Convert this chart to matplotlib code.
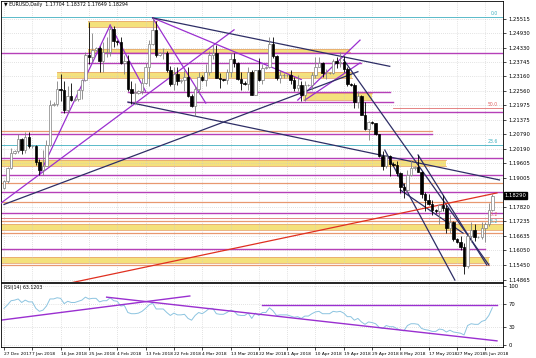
import matplotlib
matplotlib.use("Agg")
import matplotlib.pyplot as plt

# EURUSD daily bars, 27 Dec 2017 .. 7 Jun 2018 (Sunday bars included)
opens = [1.1860, 1.1887, 1.1940, 1.2005, 1.2010, 1.2060, 1.2015, 1.2070,
         1.2030, 1.2030, 1.1965, 1.1935, 1.1950, 1.2035, 1.2200, 1.2205,
         1.2265, 1.2260, 1.2180, 1.2235, 1.2220, 1.2225, 1.2260, 1.2300,
         1.2405, 1.2395, 1.2425, 1.2430, 1.2380, 1.2415, 1.2415, 1.2510,
         1.2460, 1.2455, 1.2370, 1.2380, 1.2265, 1.2250, 1.2250, 1.2255,
         1.2290, 1.2355, 1.2450, 1.2505, 1.2405, 1.2410, 1.2410, 1.2340,
         1.2285, 1.2325, 1.2295, 1.2300, 1.2315, 1.2235, 1.2195, 1.2265,
         1.2315, 1.2300, 1.2335, 1.2405, 1.2410, 1.2310, 1.2305, 1.2300,
         1.2335, 1.2385, 1.2370, 1.2305, 1.2290, 1.2285, 1.2335, 1.2240,
         1.2340, 1.2300, 1.2350, 1.2355, 1.2450, 1.2400, 1.2310, 1.2320,
         1.2320, 1.2320, 1.2300, 1.2270, 1.2280, 1.2240, 1.2280, 1.2280,
         1.2320, 1.2355, 1.2370, 1.2330, 1.2330, 1.2330, 1.2380, 1.2370,
         1.2375, 1.2345, 1.2285, 1.2280, 1.2210, 1.2235, 1.2160, 1.2100,
         1.2130, 1.2125, 1.2080, 1.1990, 1.1950, 1.1990, 1.1960, 1.1955,
         1.1920, 1.1865, 1.1850, 1.1915, 1.1940, 1.1945, 1.1925, 1.1835,
         1.1810, 1.1795, 1.1770, 1.1765, 1.1790, 1.1780, 1.1695, 1.1720,
         1.1650, 1.1640, 1.1620, 1.1540, 1.1665, 1.1690, 1.1660, 1.1660,
         1.1695, 1.1715, 1.1770]
highs = [1.1893, 1.1945, 1.2023, 1.2015, 1.2081, 1.2065, 1.2089, 1.2090,
         1.2035, 1.2035, 1.1980, 1.2015, 1.2055, 1.2218, 1.2210, 1.2295,
         1.2325, 1.2296, 1.2275, 1.2290, 1.2230, 1.2265, 1.2305, 1.2415,
         1.2537, 1.2495, 1.2435, 1.2440, 1.2455, 1.2475, 1.2525, 1.2520,
         1.2465, 1.2475, 1.2405, 1.2405, 1.2295, 1.2290, 1.2260, 1.2310,
         1.2370, 1.2465, 1.2555, 1.2540, 1.2415, 1.2430, 1.2420, 1.2360,
         1.2355, 1.2355, 1.2305, 1.2340, 1.2355, 1.2245, 1.2275, 1.2335,
         1.2320, 1.2365, 1.2420, 1.2445, 1.2445, 1.2330, 1.2305, 1.2345,
         1.2410, 1.2410, 1.2375, 1.2335, 1.2295, 1.2355, 1.2340, 1.2340,
         1.2390, 1.2365, 1.2360, 1.2475, 1.2475, 1.2405, 1.2340, 1.2330,
         1.2325, 1.2340, 1.2315, 1.2320, 1.2295, 1.2295, 1.2285, 1.2335,
         1.2395, 1.2395, 1.2375, 1.2345, 1.2335, 1.2385, 1.2395, 1.2415,
         1.2400, 1.2355, 1.2290, 1.2290, 1.2255, 1.2240, 1.2210, 1.2135,
         1.2135, 1.2125, 1.2080, 1.2010, 1.2000, 1.1995, 1.1965, 1.1970,
         1.1925, 1.1880, 1.1935, 1.1975, 1.1950, 1.1995, 1.1930, 1.1845,
         1.1835, 1.1810, 1.1775, 1.1795, 1.1830, 1.1790, 1.1750, 1.1725,
         1.1655, 1.1665, 1.1635, 1.1675, 1.1720, 1.1715, 1.1665, 1.1720,
         1.1720, 1.1800, 1.1837]
lows = [1.1855, 1.1880, 1.1937, 1.2000, 1.2005, 1.2000, 1.2005, 1.2025,
        1.2025, 1.1955, 1.1915, 1.1915, 1.1955, 1.2030, 1.2195, 1.2195,
        1.2215, 1.2165, 1.2165, 1.2215, 1.2215, 1.2215, 1.2225, 1.2295,
        1.2365, 1.2375, 1.2420, 1.2335, 1.2335, 1.2395, 1.2400, 1.2435,
        1.2445, 1.2365, 1.2325, 1.2255, 1.2205, 1.2205, 1.2245, 1.2245,
        1.2285, 1.2275, 1.2445, 1.2395, 1.2400, 1.2385, 1.2335, 1.2275,
        1.2260, 1.2280, 1.2290, 1.2255, 1.2230, 1.2190, 1.2155, 1.2245,
        1.2295, 1.2275, 1.2320, 1.2385, 1.2310, 1.2270, 1.2295, 1.2285,
        1.2315, 1.2355, 1.2300, 1.2260, 1.2280, 1.2260, 1.2240, 1.2240,
        1.2295, 1.2285, 1.2345, 1.2350, 1.2390, 1.2300, 1.2290, 1.2310,
        1.2315, 1.2285, 1.2255, 1.2255, 1.2215, 1.2215, 1.2275, 1.2260,
        1.2310, 1.2355, 1.2315, 1.2305, 1.2325, 1.2325, 1.2350, 1.2355,
        1.2335, 1.2275, 1.2275, 1.2185, 1.2185, 1.2160, 1.2095, 1.2055,
        1.2120, 1.2075, 1.1985, 1.1935, 1.1940, 1.1910, 1.1950, 1.1910,
        1.1840, 1.1820, 1.1845, 1.1910, 1.1935, 1.1925, 1.1820, 1.1765,
        1.1790, 1.1750, 1.1760, 1.1715, 1.1765, 1.1675, 1.1675, 1.1645,
        1.1635, 1.1605, 1.1510, 1.1535, 1.1640, 1.1645, 1.1655, 1.1650,
        1.1640, 1.1705, 1.1765]
closes = [1.1887, 1.1940, 1.2005, 1.2010, 1.2060, 1.2015, 1.2070, 1.2030,
          1.2030, 1.1965, 1.1935, 1.1950, 1.2035, 1.2200, 1.2205, 1.2265,
          1.2260, 1.2180, 1.2235, 1.2220, 1.2225, 1.2260, 1.2300, 1.2405,
          1.2395, 1.2425, 1.2430, 1.2380, 1.2415, 1.2415, 1.2510, 1.2460,
          1.2455, 1.2370, 1.2380, 1.2265, 1.2250, 1.2250, 1.2255, 1.2290,
          1.2355, 1.2450, 1.2505, 1.2405, 1.2410, 1.2410, 1.2340, 1.2285,
          1.2325, 1.2295, 1.2300, 1.2315, 1.2235, 1.2195, 1.2265, 1.2315,
          1.2300, 1.2335, 1.2405, 1.2410, 1.2310, 1.2305, 1.2300, 1.2335,
          1.2385, 1.2370, 1.2305, 1.2290, 1.2285, 1.2335, 1.2240, 1.2340,
          1.2300, 1.2350, 1.2355, 1.2450, 1.2400, 1.2310, 1.2320, 1.2320,
          1.2320, 1.2300, 1.2270, 1.2280, 1.2240, 1.2280, 1.2280, 1.2320,
          1.2355, 1.2370, 1.2330, 1.2330, 1.2330, 1.2380, 1.2370, 1.2375,
          1.2345, 1.2285, 1.2280, 1.2210, 1.2235, 1.2160, 1.2100, 1.2130,
          1.2125, 1.2080, 1.1990, 1.1950, 1.1990, 1.1960, 1.1955, 1.1920,
          1.1865, 1.1850, 1.1915, 1.1940, 1.1945, 1.1925, 1.1835, 1.1810,
          1.1795, 1.1770, 1.1765, 1.1790, 1.1780, 1.1695, 1.1720, 1.1650,
          1.1640, 1.1620, 1.1540, 1.1665, 1.1690, 1.1660, 1.1660, 1.1695,
          1.1715, 1.1770, 1.1829]

# RSI(14)
rsi = [62, 68, 75, 76, 78, 72, 76, 73,
       73, 62, 57, 59, 66, 78, 78, 80,
       79, 70, 74, 72, 72, 74, 76, 81,
       78, 79, 79, 73, 75, 75, 80, 75,
       74, 66, 67, 55, 53, 53, 54, 57,
       62, 68, 71, 61, 61, 61, 55, 50,
       54, 51, 51, 52, 45, 42, 50, 55,
       53, 57, 62, 62, 53, 52, 52, 55,
       59, 57, 51, 50, 50, 54, 45, 54,
       50, 55, 55, 63, 58, 50, 51, 51,
       51, 49, 47, 48, 45, 49, 49, 53,
       56, 57, 53, 53, 53, 57, 56, 57,
       54, 48, 48, 42, 45, 39, 35, 39,
       38, 36, 30, 28, 33, 31, 31, 28,
       25, 24, 33, 36, 36, 35, 28, 26,
       25, 23, 23, 27, 26, 22, 25, 22,
       21, 20, 17, 33, 36, 35, 35, 40,
       42, 50, 63.12]

date_labels = ["27 Dec 2017", "7 Jan 2018", "16 Jan 2018", "25 Jan 2018", "4 Feb 2018",
               "13 Feb 2018", "22 Feb 2018", "4 Mar 2018", "13 Mar 2018", "22 Mar 2018",
               "1 Apr 2018", "10 Apr 2018", "19 Apr 2018", "29 Apr 2018", "8 May 2018",
               "17 May 2018", "27 May 2018", "5 Jun 2018"]
price_ticks = [1.25515, 1.24930, 1.24330, 1.23745, 1.23160, 1.22560, 1.21975, 1.21375,
               1.20790, 1.20190, 1.19605, 1.19005, 1.18420, 1.17820, 1.17235, 1.16635,
               1.16050, 1.15450, 1.14865]

# horizontal levels: price, first bar, last bar
magenta_levels = [(1.2411, -2, 142), (1.2371, 23, 101), (1.2252, 35, 109), (1.2211, 35, 110),
                  (1.2170, 16, 142), (1.2081, -2, 121), (1.1983, -2, 142), (1.1913, -2, 142),
                  (1.1844, -2, 142), (1.1758, -2, 142), (1.1611, -2, 136)]
orange_levels = [(1.2093, -2, 121), (1.1881, -2, 142), (1.1803, -2, 142), (1.1725, -2, 142),
                 (1.1676, -2, 142), (1.1546, -2, 137)]
# yellow zones: low, high, first bar, last bar
zones = [(1.2517, 1.2542, 23.7, 43.2), (1.2415, 1.2428, 23.7, 97.7), (1.2309, 1.2334, 15, 98.3),
         (1.2219, 1.2248, 84.5, 104), (1.1950, 1.1975, -2, 125), (1.1689, 1.1713, -2, 142),
         (1.1554, 1.1578, -2, 137)]
# trend lines: (bar, price) -> (bar, price)
purple_lines = [((10, 1.1915), (30, 1.2525)), ((-1, 1.1797), (65, 1.2506)),
                ((30, 1.2525), (40, 1.2255)), ((42, 1.2555), (84, 1.2303)),
                ((42, 1.2555), (57, 1.2207)), ((83, 1.2219), (100.6, 1.2464)),
                ((85, 1.2219), (100.6, 1.2371))]
navy_lines = [((0, 1.1793), (100, 1.2335)), ((35, 1.2211), (140, 1.1893)),
              ((42, 1.2555), (109, 1.2357)), ((96, 1.2383), (137, 1.1546)),
              ((117, 1.1995), (136.4, 1.1546)), ((107.6, 1.2015), (127.4, 1.1484)),
              ((112, 1.1852), (129.7, 1.1676))]
red_line = ((18.6, 1.1472), (139.3, 1.1840))
fib_cyan = [1.2558, 1.2036]
fib_red = [(1.2187, 110), (1.1738, -2)]
rsi_lines = [((-1, 42), (52.5, 83)), ((29, 81), (139.3, 7))]
rsi_level = (68, 73, 139.3)


def main():
    n = len(closes)
    idx = list(range(n))

    fig = plt.figure(figsize=(5.36, 3.58), dpi=100)
    ax = fig.add_axes([1 / 536, 76 / 358, 502 / 536, 281 / 358])
    ax2 = fig.add_axes([1 / 536, 11 / 358, 502 / 536, 64 / 358])

    # levels and zones first, candles on top
    for lo, hi, a, b in zones:
        ax.fill_between([a, b], lo, hi, color="#F4E17C", lw=0, zorder=1)
        ax.plot([a, b], [lo, lo], color="#E8A870", lw=0.6, zorder=1)
        ax.plot([a, b], [hi, hi], color="#E8A870", lw=0.6, zorder=1)
    for p, a, b in magenta_levels:
        ax.plot([a, b], [p, p], color="#B640B8", lw=1.0, zorder=2)
    for p, a, b in orange_levels:
        ax.plot([a, b], [p, p], color="#E89870", lw=0.9, zorder=2)
    for p in fib_cyan:
        ax.axhline(p, color="#3FB0C0", lw=0.6, zorder=2)
    for p, a in fib_red:
        ax.plot([a, 142], [p, p], color="#E07070", lw=0.6, zorder=2)

    for (x0, y0), (x1, y1) in purple_lines:
        ax.plot([x0, x1], [y0, y1], color="#9A2FD0", lw=0.9, zorder=3)
    for (x0, y0), (x1, y1) in navy_lines:
        ax.plot([x0, x1], [y0, y1], color="#2E2E66", lw=0.9, zorder=3)
    ax.plot([red_line[0][0], red_line[1][0]], [red_line[0][1], red_line[1][1]],
            color="#E03020", lw=0.9, zorder=3)

    for i in idx:
        o, h, l, c = opens[i], highs[i], lows[i], closes[i]
        bull = c >= o
        ax.vlines(i, l, h, color="#808080" if bull else "black", lw=0.6, zorder=4)
        body = max(abs(c - o), 0.00012)
        ax.bar(i, body, bottom=min(o, c), width=0.7,
               color="white" if bull else "black",
               edgecolor="#808080" if bull else "black", lw=0.5, zorder=5)

    ax.set_xlim(-0.85, 141)
    ax.set_ylim(1.14763, 1.26237)
    ax.yaxis.tick_right()
    ax.set_yticks(price_ticks)
    # the 1.18420 label sits under the current-price box
    ax.set_yticklabels(["" if abs(t - 1.18420) < 1e-6 else "%.5f" % t for t in price_ticks])
    ax.set_xticks(range(0, n, 8))
    ax.set_xticklabels([])
    ax.grid(True, color="#C8C8C8", ls=(0, (1, 2)), lw=0.5)
    ax.tick_params(axis="y", labelsize=3.8, length=2, pad=2, width=0.5)
    ax.tick_params(axis="x", length=0)

    ax.text(0.006, 0.995, "\u25bc EURUSD,Daily  1.17704 1.18372 1.17649 1.18294",
            transform=ax.transAxes, fontsize=3.4, va="top", ha="left")
    ax.text(141.4, closes[-1], "%.5f" % closes[-1], fontsize=3.8, color="white",
            va="center", ha="left", zorder=10,
            bbox=dict(boxstyle="square,pad=0.12", fc="black", ec="black"))
    ax.text(139.5, 1.2562, "0.0", fontsize=3.3, color="#3FB0C0", ha="right", va="bottom")
    ax.text(139.5, 1.2040, "23.6", fontsize=3.3, color="#3FB0C0", ha="right", va="bottom")
    ax.text(139.5, 1.2190, "50.0", fontsize=3.3, color="#E06060", ha="right", va="bottom")
    ax.text(139.5, 1.1741, "38.2", fontsize=3.3, color="#E06060", ha="right", va="bottom")
    ax.text(139.5, 1.1712, "38.2", fontsize=3.3, color="#3FB0C0", ha="right", va="bottom")

    # RSI panel
    ax2.plot(idx, rsi, color="#8CC4E0", lw=0.7)
    for (x0, y0), (x1, y1) in rsi_lines:
        ax2.plot([x0, x1], [y0, y1], color="#9A2FD0", lw=1.0)
    ax2.plot([rsi_level[1], rsi_level[2]], [rsi_level[0], rsi_level[0]], color="#9A2FD0", lw=1.0)
    ax2.set_xlim(-0.85, 141)
    ax2.set_ylim(-3.4, 105)
    ax2.yaxis.tick_right()
    ax2.set_yticks([0, 30, 70, 100])
    ax2.set_yticklabels(["0", "30", "70", "100"])
    ax2.set_xticks(range(0, n, 8))
    ax2.set_xticklabels(date_labels, ha="left")
    ax2.grid(True, color="#C8C8C8", ls=(0, (1, 2)), lw=0.5)
    ax2.tick_params(axis="y", labelsize=3.8, length=2, pad=2, width=0.5)
    ax2.tick_params(axis="x", labelsize=3.2, length=2, pad=1.5, width=0.5)
    ax2.text(0.006, 0.97, "RSI(14) 63.1203", transform=ax2.transAxes, fontsize=3.4,
             va="top", ha="left")

    for a in (ax, ax2):
        for s in a.spines.values():
            s.set_linewidth(0.6)

    fig.savefig("out.png", dpi=100)


if __name__ == "__main__":
    main()
